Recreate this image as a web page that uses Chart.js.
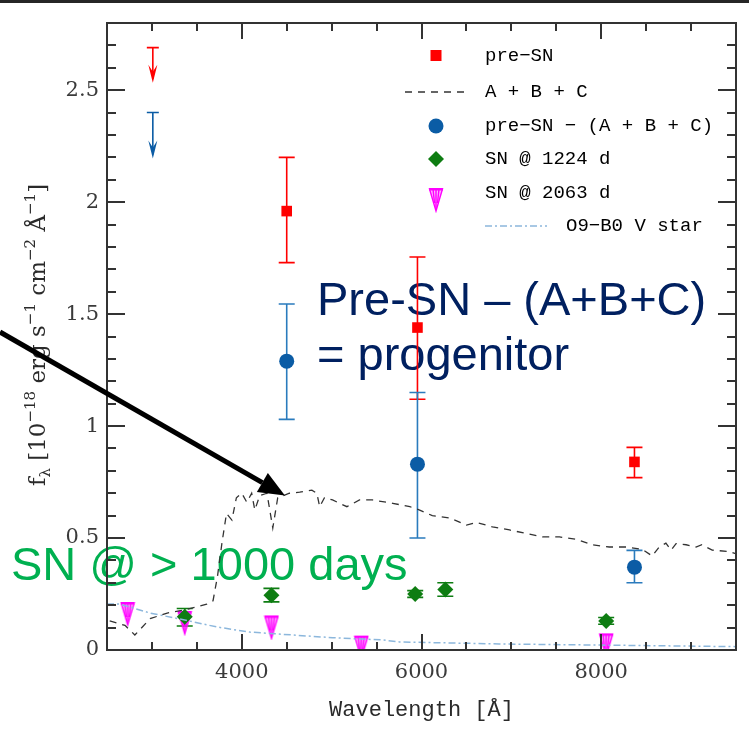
<!DOCTYPE html>
<html>
<head>
<meta charset="utf-8">
<title>SED of the progenitor</title>
<script src="https://cdn.jsdelivr.net/npm/chart.js"></script>
<style>
  html, body { margin: 0; padding: 0; background: #fff; }
  #wrap { position: relative; width: 749px; height: 729px; }
</style>
</head>
<body>
<div id="wrap"><canvas id="sedChart" width="749" height="729"></canvas></div>
<script>
// A + B + C model spectrum (wavelength in Å, flux in 1e-18 erg/s/cm2/Å)
const abcWave = [2530, 2700, 2810, 2980, 3170, 3370, 3610, 3680, 3730, 3780, 3830, 3890, 3940, 4000,
  4056, 4110, 4145, 4200, 4280, 4345, 4400, 4530, 4645, 4780, 4835, 4867, 4920, 5010, 5170,
  5310, 5455, 5680, 5870, 5980, 6120, 6310, 6500, 6610, 6790, 6980, 7170, 7345, 7535, 7720,
  7900, 8090, 8280, 8455, 8567, 8645, 8720, 8778, 8833, 8945, 9055, 9120, 9235, 9420, 9495];
const abcFlux = [0.13, 0.11, 0.067, 0.14, 0.165, 0.18, 0.205, 0.22, 0.33, 0.48, 0.61, 0.58, 0.68, 0.70,
  0.66, 0.70, 0.625, 0.69, 0.70, 0.545, 0.68, 0.70, 0.705, 0.714, 0.70, 0.64, 0.68, 0.67, 0.64,
  0.67, 0.67, 0.655, 0.64, 0.625, 0.60, 0.59, 0.558, 0.57, 0.55, 0.536, 0.52, 0.505, 0.505, 0.495,
  0.47, 0.46, 0.46, 0.45, 0.42, 0.46, 0.477, 0.446, 0.475, 0.47, 0.46, 0.47, 0.446, 0.44, 0.43];

// O9-B0 V star template
const starWave = [2500, 2645, 2980, 3365, 3720, 4090, 4455, 5010, 5565, 5755, 6865, 7980, 9495];
const starFlux = [0.205, 0.205, 0.165, 0.134, 0.103, 0.08, 0.07, 0.055, 0.045, 0.036, 0.027, 0.022, 0.015];

// pre-SN photometry with error range
const preSNWave = [4500, 5955, 8370];
const preSNFlux = [1.96, 1.44, 0.84];
const preSNLow = [1.73, 1.12, 0.77];
const preSNHigh = [2.20, 1.755, 0.905];

// pre-SN minus (A + B + C)
const progWave = [4500, 5955, 8370];
const progFlux = [1.29, 0.83, 0.37];
const progLow = [1.03, 0.50, 0.30];
const progHigh = [1.545, 1.15, 0.445];

// upper limits in the bluest band
const limitWave = [3010];
const preSNLimit = [2.69];
const progLimit = [2.40];

// SN at 1224 d
const sn1224Wave = [3365, 4330, 5930, 6265, 8055];
const sn1224Flux = [0.148, 0.245, 0.25, 0.27, 0.13];
const sn1224Low = [0.107, 0.215, 0.235, 0.24, 0.115];
const sn1224High = [0.185, 0.275, 0.265, 0.30, 0.145];

// SN at 2063 d (upper limits)
const sn2063Wave = [2730, 3365, 4330, 5330, 8055];
const sn2063Flux = [0.21, 0.17, 0.15, 0.06, 0.07];

const RED = '#ff0000';
const BLUE = '#0b5ca5';
const BLUE_ERR = '#2a7bbd';
const GREEN = '#0e7d12';
const MAGENTA = '#ff00ff';
const STAR = '#8cb7dc';
const ABC = '#333333';

// downward open triangle used for the late-time limits; top edge sits on the value
function makeLimitMarker() {
  const c = document.createElement('canvas');
  c.width = 16; c.height = 48;
  const g = c.getContext('2d');
  g.beginPath();
  g.moveTo(1.5, 24); g.lineTo(14.5, 24); g.lineTo(8, 46); g.closePath();
  g.fillStyle = 'rgba(255, 0, 255, 0.3)';
  g.fill();
  g.strokeStyle = MAGENTA;
  g.lineWidth = 1.4;
  g.stroke();
  g.beginPath();
  g.moveTo(5, 24); g.lineTo(6.5, 38);
  g.moveTo(8, 24); g.lineTo(8, 44);
  g.moveTo(11, 24); g.lineTo(9.5, 38);
  g.stroke();
  g.fillStyle = MAGENTA;
  g.fillRect(1, 23, 14, 2.5);
  return c;
}
const limitMarker = makeLimitMarker();

function pts(xs, ys) {
  return xs.map((x, i) => ({ x: x, y: ys[i] }));
}

function drawErrorBars(ctx, sx, sy, xs, lo, hi, color, cap) {
  ctx.strokeStyle = color;
  ctx.lineWidth = 1.6;
  xs.forEach((w, i) => {
    const x = sx.getPixelForValue(w);
    const y1 = sy.getPixelForValue(lo[i]);
    const y2 = sy.getPixelForValue(hi[i]);
    ctx.beginPath();
    ctx.moveTo(x, y1); ctx.lineTo(x, y2);
    ctx.moveTo(x - cap, y1); ctx.lineTo(x + cap, y1);
    ctx.moveTo(x - cap, y2); ctx.lineTo(x + cap, y2);
    ctx.stroke();
  });
}

function drawLimitArrow(ctx, x, y, len, color) {
  ctx.strokeStyle = color;
  ctx.fillStyle = color;
  ctx.lineWidth = 1.6;
  ctx.beginPath();
  ctx.moveTo(x - 6, y); ctx.lineTo(x + 6, y);
  ctx.moveTo(x, y); ctx.lineTo(x, y + len - 4);
  ctx.stroke();
  ctx.beginPath();
  ctx.moveTo(x, y + len);
  ctx.lineTo(x - 4.5, y + len - 18);
  ctx.lineTo(x, y + len - 11);
  ctx.lineTo(x + 4.5, y + len - 18);
  ctx.closePath();
  ctx.fill();
}

const sedDecor = {
  id: 'sedDecor',
  beforeDraw(chart) {
    const ctx = chart.ctx;
    ctx.save();
    ctx.fillStyle = '#fff';
    ctx.fillRect(0, 0, chart.width, chart.height);
    ctx.fillStyle = '#262626';
    ctx.fillRect(0, 0, chart.width, 3);

    // slide captions
    ctx.font = '47px "Liberation Sans", Arial, sans-serif';
    ctx.textBaseline = 'alphabetic';
    ctx.textAlign = 'left';
    ctx.fillStyle = '#002060';
    ctx.fillText('Pre-SN \u2013 (A+B+C)', 317, 315);
    ctx.fillText('= progenitor', 317, 370);
    ctx.fillStyle = '#00b050';
    ctx.fillText('SN @ > 1000 days', 11, 580);

    // y axis title with sub/superscripts
    const parts = [
      ['f', 0], ['\u03bb', -1], [' [10', 0], ['\u221218', 1], [' erg s', 0], ['\u22121', 1],
      [' cm', 0], ['\u22122', 1], [' \u00c5', 0], ['\u22121', 1], [']', 0]
    ];
    const big = '23px "DejaVu Serif", serif';
    const small = '15px "DejaVu Serif", serif';
    let total = 0;
    parts.forEach(p => { ctx.font = p[1] ? small : big; total += ctx.measureText(p[0]).width; });
    ctx.translate(45, 335);
    ctx.rotate(-Math.PI / 2);
    ctx.fillStyle = '#2a2a2a';
    let cx = -total / 2;
    parts.forEach(p => {
      ctx.font = p[1] ? small : big;
      const dy = p[1] === 1 ? -10 : (p[1] === -1 ? 5 : 0);
      ctx.fillText(p[0], cx, dy);
      cx += ctx.measureText(p[0]).width;
    });
    ctx.restore();
  },
  beforeDatasetsDraw(chart) {
    const ctx = chart.ctx;
    const sx = chart.scales.x, sy = chart.scales.y;
    ctx.save();
    const a = chart.chartArea;
    ctx.beginPath();
    ctx.rect(a.left, a.top, a.right - a.left, a.bottom - a.top);
    ctx.clip();
    drawErrorBars(ctx, sx, sy, preSNWave, preSNLow, preSNHigh, RED, 8);
    drawErrorBars(ctx, sx, sy, progWave, progLow, progHigh, BLUE_ERR, 8);
    drawErrorBars(ctx, sx, sy, sn1224Wave, sn1224Low, sn1224High, GREEN, 8);
    ctx.restore();
  },
  afterDatasetsDraw(chart) {
    const ctx = chart.ctx;
    const sx = chart.scales.x, sy = chart.scales.y;
    const a = chart.chartArea;
    ctx.save();
    limitWave.forEach((w, i) => {
      const x = sx.getPixelForValue(w);
      drawLimitArrow(ctx, x, sy.getPixelForValue(preSNLimit[i]), 35, RED);
      drawLimitArrow(ctx, x, sy.getPixelForValue(progLimit[i]), 46, BLUE);
    });

    // frame with inward ticks on all four sides
    ctx.strokeStyle = '#333';
    ctx.lineWidth = 2;
    ctx.strokeRect(a.left, a.top, a.right - a.left, a.bottom - a.top);
    ctx.beginPath();
    sx.ticks.forEach(t => {
      const x = Math.round(sx.getPixelForValue(t.value));
      const len = t.value % 2000 === 0 ? 16 : 8;
      ctx.moveTo(x, a.bottom); ctx.lineTo(x, a.bottom - len);
      ctx.moveTo(x, a.top); ctx.lineTo(x, a.top + len);
    });
    sy.ticks.forEach(t => {
      const y = Math.round(sy.getPixelForValue(t.value));
      const major = Math.abs(t.value * 2 - Math.round(t.value * 2)) < 1e-6;
      const len = major ? 18 : 9;
      ctx.moveTo(a.left, y); ctx.lineTo(a.left + len, y);
      ctx.moveTo(a.right, y); ctx.lineTo(a.right - len, y);
    });
    ctx.stroke();
    ctx.restore();
  },
  afterDraw(chart) {
    const ctx = chart.ctx;
    const sx = chart.scales.x, sy = chart.scales.y;
    ctx.save();

    // legend
    const mx = 436, tx = 485;
    ctx.font = '19px "Liberation Mono", "DejaVu Sans Mono", monospace';
    ctx.fillStyle = '#000';
    ctx.textBaseline = 'middle';
    ctx.textAlign = 'left';
    ctx.fillText('pre\u2212SN', tx, 56);
    ctx.fillText('A + B + C', tx, 92);
    ctx.fillText('pre\u2212SN \u2212 (A + B + C)', tx, 126);
    ctx.fillText('SN @ 1224 d', tx, 159);
    ctx.fillText('SN @ 2063 d', tx, 193);
    ctx.fillText('O9\u2212B0 V star', 566, 226);

    ctx.fillStyle = RED;
    ctx.fillRect(mx - 5.5, 50, 11, 11);
    ctx.strokeStyle = ABC;
    ctx.lineWidth = 1.3;
    ctx.setLineDash([7, 6]);
    ctx.beginPath(); ctx.moveTo(405, 92); ctx.lineTo(470, 92); ctx.stroke();
    ctx.strokeStyle = STAR;
    ctx.lineWidth = 1.5;
    ctx.setLineDash([7, 3, 2, 3]);
    ctx.beginPath(); ctx.moveTo(485, 226); ctx.lineTo(547, 226); ctx.stroke();
    ctx.setLineDash([]);
    ctx.fillStyle = BLUE;
    ctx.beginPath(); ctx.arc(mx, 126, 7.5, 0, Math.PI * 2); ctx.fill();
    ctx.fillStyle = GREEN;
    ctx.beginPath();
    ctx.moveTo(mx, 151); ctx.lineTo(mx + 8, 159); ctx.lineTo(mx, 167); ctx.lineTo(mx - 8, 159);
    ctx.closePath(); ctx.fill();
    ctx.drawImage(limitMarker, mx - 8, 189 - 24);

    // pointer onto the model spectrum
    const tipX = sx.getPixelForValue(4480), tipY = sy.getPixelForValue(0.69);
    const x0 = 0, y0 = 332;
    const ang = Math.atan2(tipY - y0, tipX - x0);
    const headLen = 26, headW = 11;
    const bx = tipX - headLen * Math.cos(ang), by = tipY - headLen * Math.sin(ang);
    ctx.strokeStyle = '#000';
    ctx.fillStyle = '#000';
    ctx.lineWidth = 5;
    ctx.beginPath(); ctx.moveTo(x0, y0); ctx.lineTo(bx, by); ctx.stroke();
    ctx.beginPath();
    ctx.moveTo(tipX, tipY);
    ctx.lineTo(bx + headW * Math.sin(ang), by - headW * Math.cos(ang));
    ctx.lineTo(bx - headW * Math.sin(ang), by + headW * Math.cos(ang));
    ctx.closePath();
    ctx.fill();
    ctx.restore();
  }
};

new Chart(document.getElementById('sedChart'), {
  type: 'scatter',
  data: {
    datasets: [
      {
        label: 'A + B + C',
        data: pts(abcWave, abcFlux),
        showLine: true,
        borderColor: ABC,
        borderWidth: 1.3,
        borderDash: [7, 6],
        pointRadius: 0,
        tension: 0
      },
      {
        label: 'O9-B0 V star',
        data: pts(starWave, starFlux),
        showLine: true,
        borderColor: STAR,
        borderWidth: 1.5,
        borderDash: [7, 3, 2, 3],
        pointRadius: 0,
        tension: 0
      },
      {
        label: 'pre-SN',
        data: pts(preSNWave, preSNFlux),
        pointStyle: 'rect',
        pointRadius: 7.5,
        backgroundColor: RED,
        borderColor: RED,
        borderWidth: 0
      },
      {
        label: 'pre-SN - (A + B + C)',
        data: pts(progWave, progFlux),
        pointStyle: 'circle',
        pointRadius: 7.5,
        backgroundColor: BLUE,
        borderColor: BLUE,
        borderWidth: 0
      },
      {
        label: 'SN @ 1224 d',
        data: pts(sn1224Wave, sn1224Flux),
        pointStyle: 'rectRot',
        pointRadius: 8,
        backgroundColor: GREEN,
        borderColor: GREEN,
        borderWidth: 0
      },
      {
        label: 'SN @ 2063 d',
        data: pts(sn2063Wave, sn2063Flux),
        pointStyle: limitMarker,
        pointRadius: 8
      }
    ]
  },
  options: {
    responsive: false,
    animation: false,
    layout: { padding: { left: 0, right: 13, top: 23, bottom: 0 } },
    plugins: { legend: { display: false }, tooltip: { enabled: false } },
    scales: {
      x: {
        type: 'linear',
        min: 2500,
        max: 9500,
        grid: { display: false, drawTicks: false },
        border: { display: false },
        ticks: {
          stepSize: 500,
          autoSkip: false,
          maxRotation: 0,
          padding: 10,
          color: '#3a3a3a',
          font: { family: '"DejaVu Serif", serif', size: 21 },
          callback: v => (v % 2000 === 0 ? String(v) : '')
        },
        title: {
          display: true,
          text: 'Wavelength [\u00c5]',
          color: '#2a2a2a',
          font: { family: '"Liberation Mono", monospace', size: 22 },
          padding: { top: 0, bottom: 6 }
        },
        afterFit: s => { s.height = 79; }
      },
      y: {
        min: 0,
        max: 2.8,
        grid: { display: false, drawTicks: false },
        border: { display: false },
        ticks: {
          stepSize: 0.1,
          autoSkip: false,
          padding: 8,
          color: '#3a3a3a',
          font: { family: '"DejaVu Serif", serif', size: 21 },
          callback: v => (Math.abs(v * 2 - Math.round(v * 2)) < 1e-6 ? String(+v.toFixed(1)) : '')
        },
        afterFit: s => { s.width = 107; }
      }
    }
  },
  plugins: [sedDecor]
});
</script>
</body>
</html>
